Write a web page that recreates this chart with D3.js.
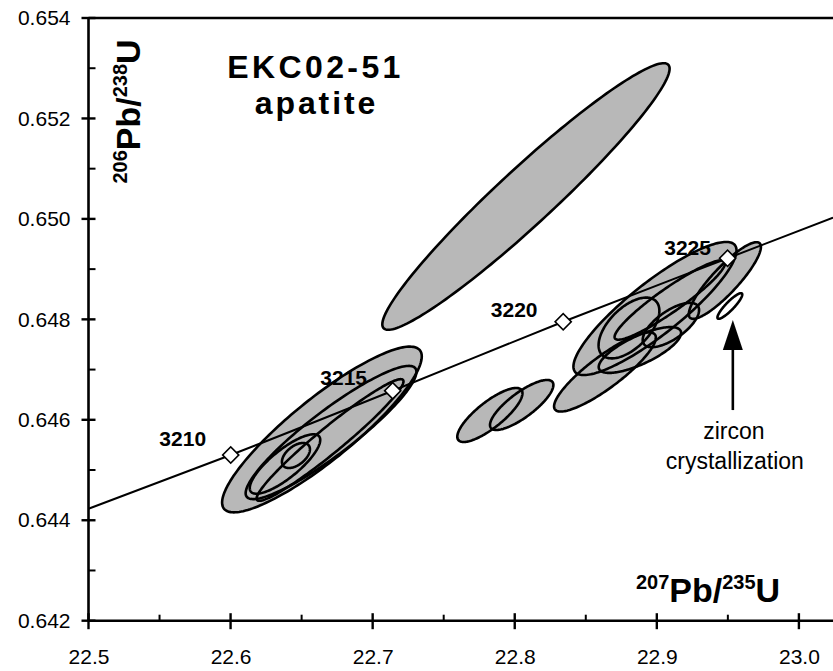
<!DOCTYPE html>
<html><head><meta charset="utf-8">
<script src="https://cdn.jsdelivr.net/npm/d3@7"></script>
<style>body{margin:0;background:#fff}svg{display:block}</style>
</head><body>
<svg id="c" width="833" height="671"></svg>
<script>
// ---- data ----
const xTicks = [22.5, 22.6, 22.7, 22.8, 22.9, 23.0];
const xMinorTicks = [22.55, 22.65, 22.75, 22.85, 22.95];
const yTicks = [0.642, 0.644, 0.646, 0.648, 0.650, 0.652, 0.654];
const yMinorTicks = [0.643, 0.645, 0.647, 0.649, 0.651, 0.653];

const concordiaAges = [3210, 3215, 3220, 3225];
const concordiaX = [22.6001, 22.7141, 22.8341, 22.9498];
const concordiaY = [0.645299, 0.646579, 0.647953, 0.649216];
const curveX = [22.5, 22.6001, 22.7141, 22.8341, 22.9498, 23.024];
const curveY = [0.644230, 0.645299, 0.646579, 0.647953, 0.649216, 0.650026];

// error ellipses: centre, half-extent in x and y, correlation
const ellCx  = [22.8079, 22.6643, 22.6707, 22.6700, 22.6383, 22.6460, 22.7825, 22.8049, 22.8635, 22.8987, 22.9479, 22.8804, 22.9099, 22.9092, 22.8881, 22.9514];
const ellCy  = [0.650446, 0.645807, 0.645747, 0.645598, 0.645120, 0.645289, 0.646096, 0.646295, 0.646952, 0.648216, 0.648773, 0.647828, 0.647887, 0.648385, 0.647390, 0.648266];
const ellSx  = [0.1011, 0.07027, 0.0601, 0.0517, 0.0248, 0.00985, 0.02294, 0.02231, 0.03582, 0.05739, 0.02537, 0.02139, 0.01984, 0.03892, 0.0290, 0.00873];
const ellSy  = [0.002654, 0.00165, 0.001326, 0.001211, 0.000592, 0.000249, 0.000538, 0.000498, 0.000788, 0.001325, 0.000763, 0.000605, 0.000441, 0.00079, 0.000456, 0.000255];
const ellRho = [0.9589, 0.8814, 0.911, 0.963, 0.810, 0.50, 0.805, 0.80, 0.869, 0.8725, 0.877, 0.566, 0.673, 0.931, 0.743, 0.894];
const ellFilled = [1, 1, 1, 1, 1, 1, 1, 1, 1, 1, 1, 1, 1, 1, 1, 0];

const arrowX = 22.9535;
const arrowY = [0.646194, 0.647987];

// ---- layout ----
const W = 833, H = 671;
const m = {left: 88.5, top: 18, right: 0, bottom: 50.3};
const x = d3.scaleLinear().domain([22.5, 23.024]).range([m.left, W]);
const y = d3.scaleLinear().domain([0.642, 0.654]).range([H - m.bottom, m.top]);
const svg = d3.select('#c');
const FONT = '"Liberation Sans", Arial, Helvetica, sans-serif';
const GRAY = '#b8b8b8';

// ellipses
const ellData = ellCx.map((cx, i) => ({cx, cy: ellCy[i], sx: ellSx[i], sy: ellSy[i], r: ellRho[i], f: ellFilled[i]}));
function ellPts(e) {
  const pts = [], k = Math.sqrt(1 - e.r * e.r);
  for (let j = 0; j < 180; j++) {
    const t = j / 180 * 2 * Math.PI;
    pts.push([x(e.cx + e.sx * Math.cos(t)), y(e.cy + e.sy * (e.r * Math.cos(t) + k * Math.sin(t)))]);
  }
  return pts;
}
const closed = d3.line().curve(d3.curveLinearClosed);
const gE = svg.append('g');
gE.selectAll('path.fill').data(ellData.filter(d => d.f)).join('path')
  .attr('class', 'fill').attr('d', d => closed(ellPts(d))).attr('fill', GRAY).attr('stroke', 'none');
gE.selectAll('path.out').data(ellData).join('path')
  .attr('class', 'out').attr('d', d => closed(ellPts(d))).attr('fill', 'none')
  .attr('stroke', '#000').attr('stroke-width', 2.6);

// concordia
const curvePts = curveX.map((v, i) => [x(v), y(curveY[i])]);
svg.append('path').attr('d', d3.line().curve(d3.curveMonotoneX)(curvePts))
  .attr('fill', 'none').attr('stroke', '#000').attr('stroke-width', 2);
svg.selectAll('path.dia').data(concordiaAges).join('path')
  .attr('class', 'dia')
  .attr('d', d3.symbol().type(d3.symbolSquare).size(130))
  .attr('transform', (d, i) => `translate(${x(concordiaX[i])},${y(concordiaY[i])}) rotate(45)`)
  .attr('fill', '#fff').attr('stroke', '#000').attr('stroke-width', 1.6);
const labDx = [-48, -49, -49, -40], labDy = [-9, -6, -5, -3];
svg.selectAll('text.age').data(concordiaAges).join('text')
  .attr('class', 'age')
  .attr('x', (d, i) => x(concordiaX[i]) + labDx[i])
  .attr('y', (d, i) => y(concordiaY[i]) + labDy[i])
  .attr('text-anchor', 'middle').attr('font-family', FONT).attr('font-weight', 'bold')
  .attr('font-size', 21).text(d => d);

// axes
const gx = svg.append('g').attr('transform', `translate(0,${y(0.642)})`)
  .call(d3.axisBottom(x).tickValues(xTicks).tickFormat(d3.format('.1f')).tickSize(0).tickPadding(37));
const gy = svg.append('g').attr('transform', `translate(${x(22.5)},0)`)
  .call(d3.axisLeft(y).tickValues(yTicks).tickFormat(d3.format('.3f')).tickSize(0).tickPadding(18));
[gx, gy].forEach(g => {
  g.select('.domain').remove();
  g.selectAll('text').attr('font-family', FONT).attr('font-size', 21).attr('fill', '#000');
});
gx.selectAll('text').attr('dy', '0.32em');
// axis lines
svg.append('line').attr('x1', x(22.5)).attr('x2', W).attr('y1', y(0.642)).attr('y2', y(0.642)).attr('stroke', '#000').attr('stroke-width', 2.6);
svg.append('line').attr('x1', x(22.5)).attr('x2', x(22.5)).attr('y1', y(0.642)).attr('y2', y(0.654)).attr('stroke', '#000').attr('stroke-width', 2.6);
svg.append('line').attr('x1', x(22.5)).attr('x2', W).attr('y1', y(0.654)).attr('y2', y(0.654)).attr('stroke', '#000').attr('stroke-width', 2.6);
// ticks
svg.selectAll('line.xt').data(xTicks).join('line').attr('class', 'xt')
  .attr('x1', d => x(d)).attr('x2', d => x(d)).attr('y1', y(0.642) - 7.5).attr('y2', y(0.642) + 8.5)
  .attr('stroke', '#000').attr('stroke-width', 2.4);
svg.selectAll('line.xm').data(xMinorTicks).join('line').attr('class', 'xm')
  .attr('x1', d => x(d)).attr('x2', d => x(d)).attr('y1', y(0.642) - 6).attr('y2', y(0.642))
  .attr('stroke', '#000').attr('stroke-width', 2);
svg.selectAll('line.yt').data(yTicks).join('line').attr('class', 'yt')
  .attr('y1', d => y(d)).attr('y2', d => y(d)).attr('x1', x(22.5) - 7).attr('x2', x(22.5) + 7)
  .attr('stroke', '#000').attr('stroke-width', 2.4);
svg.selectAll('line.ym').data(yMinorTicks).join('line').attr('class', 'ym')
  .attr('y1', d => y(d)).attr('y2', d => y(d)).attr('x1', x(22.5)).attr('x2', x(22.5) + 7)
  .attr('stroke', '#000').attr('stroke-width', 2);

// axis titles
function isoTitle(sel, a, b) {
  sel.attr('font-family', FONT).attr('font-weight', 'bold').attr('text-anchor', 'middle');
  sel.append('tspan').attr('font-size', 20).attr('dy', -13).text(a);
  sel.append('tspan').attr('font-size', 34).attr('dy', 13).text('Pb/');
  sel.append('tspan').attr('font-size', 20).attr('dy', -13).text(b);
  sel.append('tspan').attr('font-size', 34).attr('dy', 13).text('U');
}
isoTitle(svg.append('text').attr('x', 708).attr('y', 602), '207', '235');
isoTitle(svg.append('text').attr('transform', 'translate(140,111.5) rotate(-90)'), '206', '238');

// sample title
svg.append('text').attr('x', 315.5).attr('y', 77.5).attr('text-anchor', 'middle')
  .attr('font-family', FONT).attr('font-weight', 'bold').attr('font-size', 32)
  .attr('letter-spacing', 3.4).text('EKC02-51');
svg.append('text').attr('x', 316.5).attr('y', 113.5).attr('text-anchor', 'middle')
  .attr('font-family', FONT).attr('font-weight', 'bold').attr('font-size', 32)
  .attr('letter-spacing', 2.9).text('apatite');

// zircon arrow + label
const ax = x(arrowX), ay0 = y(arrowY[0]), ay1 = y(arrowY[1]);
svg.append('line').attr('x1', ax).attr('x2', ax).attr('y1', ay0).attr('y2', ay1 + 20)
  .attr('stroke', '#000').attr('stroke-width', 2.6);
svg.append('path').attr('d', `M${ax},${ay1} L${ax - 10},${ay1 + 30} L${ax + 10},${ay1 + 30} Z`).attr('fill', '#000');
svg.append('text').attr('x', ax + 1).attr('y', ay0 + 29).attr('text-anchor', 'middle')
  .attr('font-family', FONT).attr('font-size', 23).text('zircon');
svg.append('text').attr('x', ax + 2).attr('y', ay0 + 59).attr('text-anchor', 'middle')
  .attr('font-family', FONT).attr('font-size', 23).text('crystallization');
</script>
</body></html>
